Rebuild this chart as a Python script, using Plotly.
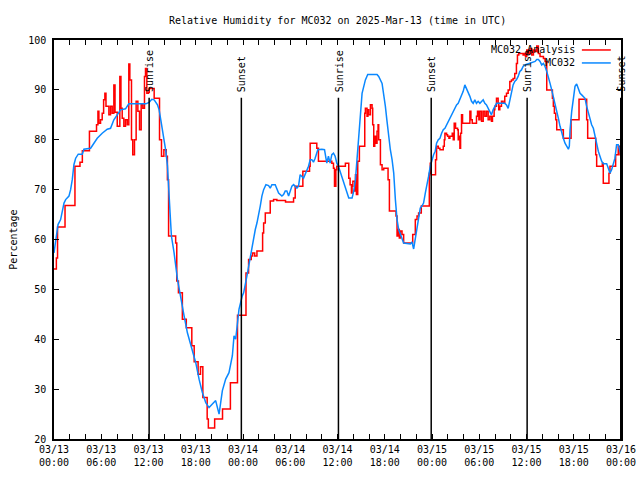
import pandas as pd
import plotly.graph_objects as go

# ---------------- data (hours since 2025-03-13 00:00 UTC) ----------------
analysis_hours = [0.0, 0.3, 0.45, 1.4, 2.66, 3.3, 3.6, 4.5, 5.4, 5.58, 5.7, 5.91, 6.12, 6.3, 6.46, 6.6,
                  6.97, 7.18, 7.39, 7.6, 7.75, 8.03, 8.36, 8.5, 8.66, 8.87, 9.08, 9.3, 9.5, 9.63, 9.84,
                  10.0, 10.22, 10.43, 10.65, 10.86, 11.07, 11.28, 11.49, 11.62, 11.79, 12.0, 12.1, 12.72,
                  13.4, 13.65, 13.95, 14.25, 14.4, 14.55, 15.45, 15.59, 15.8, 16.3, 16.8, 17.5, 17.8,
                  18.3, 18.6, 18.9, 19.45, 19.6, 20.4, 21.4, 22.4, 23.3, 24.38, 24.71, 25.05, 25.22,
                  25.48, 25.77, 26.49, 26.62, 26.83, 27.46, 27.88, 28.3, 29.4, 30.42, 30.63, 31.6,
                  32.45, 32.53, 33.37, 33.58, 35.28, 35.49, 35.62, 35.79, 35.91, 37.0, 37.43, 37.6,
                  37.77, 37.85, 37.95, 38.19, 38.28, 38.4, 38.57, 38.78, 39.46, 39.54, 39.75, 39.86,
                  39.96, 40.18, 40.39, 40.47, 40.6, 40.73, 40.9, 41.02, 41.15, 41.23, 41.45, 41.66,
                  41.87, 42.42, 42.59, 43.43, 43.56, 43.68, 43.85, 43.98, 44.19, 44.4, 45.55, 45.88,
                  46.1, 46.3, 46.64, 47.66, 47.78, 47.9, 48.45, 48.58, 48.8, 49.01, 49.43, 49.56,
                  49.64, 49.85, 49.98, 50.15, 50.27, 50.57, 50.7, 50.82, 50.99, 51.25, 51.33, 51.42,
                  51.54, 51.63, 51.75, 51.88, 52.81, 52.94, 53.11, 53.65, 53.78, 53.95, 54.08, 54.29,
                  54.5, 54.71, 54.92, 55.13, 55.34, 55.55, 55.68, 55.89, 55.98, 56.19, 56.4, 56.48,
                  56.61, 56.82, 57.03, 57.24, 57.46, 57.67, 57.88, 58.09, 58.3, 58.51, 58.72, 58.85,
                  59.02, 59.57, 59.7, 59.87, 60.03, 60.24, 60.45, 60.67, 60.88, 61.09, 61.3, 61.51,
                  61.72, 62.15, 62.36, 62.57, 63.29, 63.41, 63.54, 63.71, 63.84, 64.68, 65.66, 66.67,
                  67.64, 67.77, 68.79, 68.91, 69.63, 69.75, 70.47, 70.6, 71.32, 71.65, 71.87, 72.0]
analysis_values = [54.1, 56.3, 62.5, 66.8, 74.7, 75.5, 77.8, 81.7, 83.0, 85.7, 83.3, 84.0, 85.3, 88.0,
                   89.3, 86.7, 85.0, 86.7, 85.3, 91.0, 85.5, 82.7, 92.7, 86.3, 84.3, 82.7, 84.0, 83.0,
                   95.2, 92.0, 80.0, 77.0, 80.0, 87.7, 85.7, 82.0, 87.0, 86.3, 92.7, 94.3, 89.3, 89.5,
                   90.3, 88.3, 80.0, 76.7, 78.0, 76.7, 72.0, 60.7, 59.3, 51.7, 49.3, 44.0, 42.3, 38.7,
                   35.5, 33.0, 34.5, 28.3, 24.0, 22.2, 24.0, 26.0, 31.3, 44.8, 53.3, 56.0, 56.7, 57.3,
                   56.7, 57.7, 61.3, 63.3, 65.3, 67.7, 68.0, 67.8, 67.5, 68.3, 70.7, 73.7, 74.7, 79.3,
                   78.3, 75.7, 75.3, 74.3, 70.7, 74.0, 74.7, 75.3, 72.3, 71.0, 69.3, 70.7, 71.7, 69.7,
                   73.0, 69.0, 75.7, 78.7, 85.3, 86.3, 84.7, 86.0, 85.0, 87.0, 86.3, 83.0, 78.7, 80.7,
                   79.3, 81.7, 83.0, 80.0, 75.0, 74.0, 74.3, 72.0, 65.7, 64.7, 60.7, 62.0, 60.3, 61.7,
                   61.0, 59.3, 61.0, 64.0, 64.7, 65.3, 66.7, 73.3, 75.3, 73.0, 76.0, 78.7, 78.3, 78.0,
                   78.7, 80.0, 81.3, 81.0, 80.7, 80.3, 80.7, 81.3, 80.0, 83.3, 82.3, 82.0, 80.0, 80.7,
                   78.3, 81.3, 85.0, 83.3, 85.7, 84.0, 83.3, 84.7, 85.7, 84.0, 85.7, 83.7, 85.7, 84.7,
                   85.7, 84.0, 84.7, 83.7, 84.7, 86.0, 86.7, 88.3, 87.3, 86.0, 86.7, 87.7, 87.3, 88.7,
                   89.3, 90.0, 91.7, 92.0, 92.3, 93.3, 95.3, 97.0, 97.3, 97.0, 97.3, 96.7, 98.0, 97.3,
                   98.3, 97.0, 98.0, 97.7, 98.8, 97.3, 96.7, 96.3, 95.7, 90.0, 88.3, 86.7, 85.3, 84.0,
                   82.0, 80.3, 84.0, 88.1, 84.0, 80.3, 77.0, 74.7, 75.3, 71.3, 73.3, 74.7, 77.0, 78.7,
                   77.0, 77.0]

obs_hours = [0.0, 0.21, 0.51, 0.84, 1.06, 1.27, 1.48, 1.9, 2.11, 2.32, 2.53, 2.75, 3.08, 3.59, 3.8,
             4.65, 5.07, 5.49, 6.12, 6.76, 7.18, 7.6, 8.03, 8.45, 9.08, 9.5, 11.66, 12.08, 12.42,
             12.72, 13.14, 13.35, 13.56, 13.77, 13.98, 14.2, 14.41, 14.62, 14.74, 14.91, 15.25,
             15.68, 16.1, 16.52, 16.94, 17.37, 18.0, 18.42, 18.84, 19.27, 19.69, 20.11, 20.53,
             20.96, 21.38, 21.8, 22.22, 22.65, 22.86, 23.07, 23.28, 23.49, 23.91, 24.08, 24.5,
             24.71, 24.93, 25.14, 25.35, 25.56, 25.77, 25.98, 26.19, 26.4, 26.62, 26.91, 27.25,
             27.46, 27.67, 28.09, 28.3, 28.52, 28.94, 29.15, 29.36, 29.57, 29.79, 30.0, 30.21,
             30.42, 30.63, 30.84, 31.05, 31.26, 31.69, 31.9, 32.11, 32.32, 32.53, 32.74, 32.95,
             33.16, 33.5, 34.01, 34.35, 34.52, 34.64, 34.85, 35.06, 35.28, 35.49, 35.7, 35.91,
             36.12, 36.33, 36.59, 36.8, 37.01, 37.22, 37.43, 37.85, 38.06, 38.28, 38.49, 38.7,
             38.91, 39.12, 39.54, 39.84, 41.02, 41.23, 41.66, 41.87, 42.08, 42.29, 42.5, 42.71,
             42.93, 43.14, 43.35, 43.56, 43.77, 43.98, 44.19, 44.4, 45.25, 45.46, 45.67, 45.88,
             46.09, 46.3, 46.51, 46.72, 46.93, 47.15, 47.36, 47.57, 47.78, 47.99, 48.2, 48.41,
             48.58, 48.8, 49.01, 49.22, 49.43, 49.64, 49.85, 50.06, 50.27, 50.49, 50.7, 50.91,
             51.12, 51.33, 51.54, 51.75, 51.96, 52.17, 52.39, 52.6, 52.81, 53.02, 53.23, 53.44,
             53.65, 53.86, 54.08, 54.5, 54.71, 54.92, 55.13, 55.34, 55.55, 55.76, 55.98, 56.19,
             57.24, 57.46, 57.67, 57.88, 58.09, 58.3, 58.51, 58.72, 58.94, 59.15, 59.36, 59.57,
             59.78, 60.24, 61.09, 61.3, 61.51, 61.72, 61.93, 62.15, 62.36, 62.57, 62.78, 62.99,
             63.2, 63.41, 63.62, 63.84, 64.05, 64.26, 64.47, 64.68, 64.89, 65.11, 65.32, 65.44,
             65.53, 65.74, 65.95, 66.16, 66.37, 66.58, 66.8, 67.01, 67.22, 67.43, 67.64, 67.85,
             68.06, 68.27, 68.49, 68.7, 68.91, 69.12, 69.33, 69.54, 69.75, 70.18, 70.39, 70.6,
             70.81, 71.02, 71.23, 71.36, 71.44, 71.65, 71.78, 71.95]
obs_values = [57.3, 59.3, 63.0, 64.0, 65.7, 67.3, 68.0, 68.7, 70.0, 72.0, 75.0, 76.3, 77.1, 77.1, 78.1,
              78.3, 79.3, 80.3, 81.3, 82.1, 82.3, 84.0, 85.0, 86.0, 86.2, 87.2, 87.2, 87.5, 88.1,
              88.0, 87.0, 86.0, 84.0, 82.0, 80.0, 77.7, 74.7, 70.0, 65.3, 60.7, 57.3,
              52.0, 48.0, 44.7, 41.3, 38.7, 35.3, 32.0, 29.3, 27.3, 26.3, 27.0, 27.7,
              25.0, 29.7, 32.0, 33.3, 36.7, 40.7, 40.0, 43.3, 46.0, 48.7, 49.3, 52.7,
              54.7, 56.7, 58.7, 60.7, 62.0, 63.3, 64.7, 66.7, 68.7, 70.0, 71.0, 70.8,
              70.3, 71.0, 71.0, 70.3, 69.3, 68.7, 69.0, 69.7, 69.7, 68.7, 70.0, 70.7,
              71.0, 70.7, 70.3, 70.7, 73.0, 72.3, 73.0, 74.0, 74.7, 76.0, 76.0, 75.5,
              76.3, 78.0, 78.1, 78.0, 76.7, 75.3, 76.7, 75.3, 77.0, 77.3, 76.7, 75.3,
              74.7, 73.7, 72.7, 71.7, 70.7, 69.7, 68.3, 68.3, 69.7, 72.0, 76.0, 80.7,
              85.3, 89.3, 92.0, 93.1, 93.1, 92.7, 91.3, 89.3, 86.7, 83.7, 80.7, 78.0,
              76.0, 73.3, 68.0, 64.0, 62.0, 61.0, 60.0, 59.3, 59.1, 59.5, 58.1, 60.3,
              62.3, 64.7, 66.3, 66.7, 67.3, 69.3, 70.7, 72.7, 74.7, 76.0, 77.0, 77.7,
              79.3, 80.0, 80.3, 81.3, 82.0, 82.3, 83.0, 83.7, 84.3, 85.0, 85.7, 86.3,
              87.0, 87.3, 88.0, 88.7, 89.7, 91.0, 90.3, 89.7, 88.7, 87.7, 87.3, 88.0,
              87.3, 87.7, 87.3, 88.0, 87.3, 87.0, 86.3, 85.7, 85.0, 86.0, 86.7, 87.3,
              87.3, 87.0, 86.3, 87.7, 89.7, 91.0, 91.7, 92.0, 92.7, 93.7, 94.0, 94.7,
              95.0, 95.3, 95.7, 96.1, 96.1, 95.7, 95.0, 95.3, 94.7, 93.7, 92.7, 91.3,
              90.0, 88.7, 87.3, 86.0, 84.3, 82.7, 81.3, 80.3, 79.3, 78.7, 78.1, 78.7,
              82.0, 85.7, 88.3, 90.7, 91.2, 90.3, 89.3, 89.0, 88.7, 88.3, 86.7, 85.3,
              84.0, 83.0, 82.3, 80.7, 78.7, 77.7, 76.7, 75.7, 75.2, 75.2, 74.3, 73.3,
              74.0, 75.0, 76.3, 78.0, 79.0, 79.0, 78.0, 77.3]

sun_hours = [12.08, 23.79, 36.12, 47.9, 60.08, 71.97]
sun_labels = ["Sunrise", "Sunset", "Sunrise", "Sunset", "Sunrise", "Sunset"]

tick_hours = [0, 6, 12, 18, 24, 30, 36, 42, 48, 54, 60, 66, 72]
tick_labels = ["03/13<br>00:00", "03/13<br>06:00", "03/13<br>12:00", "03/13<br>18:00",
               "03/14<br>00:00", "03/14<br>06:00", "03/14<br>12:00", "03/14<br>18:00",
               "03/15<br>00:00", "03/15<br>06:00", "03/15<br>12:00", "03/15<br>18:00",
               "03/16<br>00:00"]

series_names = ["MC032 Analysis", "MC032"]
series_colors = ["#ff0000", "#0a88ff"]
title_text = "Relative Humidity for MC032 on 2025-Mar-13 (time in UTC)"
y_title = "Percentage"

# ---------------- figure ----------------
base = pd.Timestamp("2025-03-13 00:00")
to_t = lambda hs: [base + pd.Timedelta(hours=h) for h in hs]

FONT = "DejaVu Sans Mono"
fig = go.Figure()
fig.add_trace(go.Scatter(x=to_t(analysis_hours), y=analysis_values, mode="lines",
                         line=dict(color=series_colors[0], width=1.5, shape="hv"),
                         name=series_names[0], showlegend=False, hoverinfo="skip"))
fig.add_trace(go.Scatter(x=to_t(obs_hours), y=obs_values, mode="lines",
                         line=dict(color=series_colors[1], width=1.5),
                         name=series_names[1], showlegend=False, hoverinfo="skip"))

for h, lab in zip(sun_hours, sun_labels):
    t = base + pd.Timedelta(hours=h)
    fig.add_shape(type="line", xref="x", yref="y", x0=t, x1=t, y0=20, y1=88.4,
                  line=dict(color="black", width=1.5))
    fig.add_annotation(x=t, y=89.4, xref="x", yref="y", text=lab, textangle=-90,
                       showarrow=False, xanchor="center", yanchor="bottom", xshift=1,
                       font=dict(family=FONT, size=10, color="black"), borderpad=0)

# manual gnuplot-style legend (text left, sample right)
leg_y = [0.975, 0.9425]
for name, col, yy in zip(series_names, series_colors, leg_y):
    fig.add_annotation(x=0.92, y=yy, xref="paper", yref="paper", text=name, showarrow=False,
                       xanchor="right", yanchor="middle",
                       font=dict(family=FONT, size=10, color="black"), borderpad=0)
    fig.add_shape(type="line", xref="paper", yref="paper", x0=0.931, x1=0.982, y0=yy, y1=yy,
                  line=dict(color=col, width=1.5))

fig.add_annotation(x=0.4995, y=1.05, xref="paper", yref="paper", text=title_text, showarrow=False,
                   xanchor="center", yanchor="middle", font=dict(family=FONT, size=10, color="black"))
fig.add_annotation(x=-0.072, y=0.5, xref="paper", yref="paper", text=y_title, showarrow=False,
                   textangle=-90, xanchor="center", yanchor="middle",
                   font=dict(family=FONT, size=10, color="black"))

# the captured page is ~648 css px wide (scaled to 640 in the photo)
fig.update_layout(
    width=648, height=480, margin=dict(l=54, r=19, t=40, b=40),
    paper_bgcolor="white", plot_bgcolor="white", showlegend=False,
    font=dict(family=FONT, size=10, color="black"),
)
fig.update_xaxes(type="date", range=[base, base + pd.Timedelta(hours=72)],
                 tickvals=to_t(tick_hours), ticktext=tick_labels,
                 ticks="inside", ticklen=5, tickwidth=1, tickcolor="black",
                 minor=dict(dtick=2 * 3600 * 1000, ticks="inside", ticklen=5, tickcolor="black",
                            showgrid=False),
                 showline=True, linecolor="black", linewidth=1.5, mirror="ticks",
                 showgrid=False, zeroline=False, tickfont=dict(family=FONT, size=10))
fig.update_yaxes(range=[20, 100], tickvals=[20, 30, 40, 50, 60, 70, 80, 90, 100],
                 ticks="inside", ticklen=5, tickwidth=1, tickcolor="black",
                 showline=True, linecolor="black", linewidth=1.5, mirror="ticks",
                 showgrid=False, zeroline=False, tickfont=dict(family=FONT, size=10),
                 ticklabelstandoff=4)

fig.write_html("out.html", config={"displayModeBar": False},
               post_script="document.body.style.margin='0';document.body.style.overflow='hidden';")
